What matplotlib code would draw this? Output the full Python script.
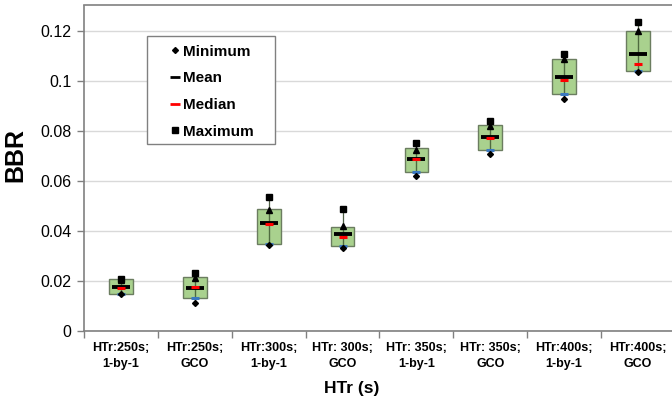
import matplotlib
matplotlib.use("Agg")
import matplotlib.pyplot as plt
from matplotlib.lines import Line2D
from matplotlib.patches import Rectangle
import numpy as np

plt.rcParams['font.family'] = ['Liberation Sans', 'DejaVu Sans']

categories = ["HTr:250s;\n1-by-1", "HTr:250s;\nGCO", "HTr:300s;\n1-by-1", "HTr: 300s;\nGCO",
              "HTr: 350s;\n1-by-1", "HTr: 350s;\nGCO", "HTr:400s;\n1-by-1", "HTr:400s;\nGCO"]
minimum = [0.0147, 0.0111, 0.0346, 0.0333, 0.0621, 0.0707, 0.0929, 0.1035]
lower = [0.0149, 0.0131, 0.0350, 0.0340, 0.0637, 0.0724, 0.0949, 0.1042]
upper = [0.0207, 0.0217, 0.0488, 0.0417, 0.0733, 0.0823, 0.1088, 0.1202]
mean = [0.0177, 0.0172, 0.0431, 0.0387, 0.0687, 0.0775, 0.1016, 0.1107]
median = [0.0171, 0.0177, 0.0427, 0.0377, 0.0688, 0.0772, 0.1003, 0.1067]
maximum = [0.0210, 0.0233, 0.0535, 0.0487, 0.0751, 0.0841, 0.1108, 0.1237]
upper_pct = [0.0205, 0.0213, 0.0485, 0.0420, 0.0725, 0.0820, 0.1087, 0.1200]
yticks = [0, 0.02, 0.04, 0.06, 0.08, 0.1, 0.12]
ytick_labels = ["0", "0.02", "0.04", "0.06", "0.08", "0.1", "0.12"]

W, H = 672, 404
fig = plt.figure(figsize=(6.72, 4.04), dpi=100)
ax = fig.add_axes([84/W, 73/H, 591/W, 325.5/H])

x = np.arange(len(categories))
lo = np.array(lower); hi = np.array(upper)

ax.vlines(x, minimum, maximum, color='#4f5f45', lw=0.9, zorder=3)
ax.bar(x, hi - lo, bottom=lo, width=0.32, color='#a9d18e', edgecolor='#6b7d60', linewidth=1.0, zorder=2)
ax.vlines(x, lo, hi, color='#4f6b3f', lw=0.8, zorder=3)
ax.plot(x, lower, ls='none', marker='_', ms=6, mew=2.2, color='#3a78c0', zorder=4)
ax.plot(x, mean, ls='none', marker='_', ms=13, mew=2.8, color='black', zorder=5)
ax.plot(x, median, ls='none', marker='_', ms=5.5, mew=2.2, color='#ff0000', zorder=6)
ax.plot(x, upper_pct, ls='none', marker='^', ms=5, color='black', zorder=5)
ax.plot(x, maximum, ls='none', marker='s', ms=5, color='black', zorder=5)
ax.plot(x, minimum, ls='none', marker='D', ms=3, color='black', zorder=5)

ax.set_xlim(-0.5, len(categories) - 0.5)
ax.set_ylim(0, 0.1302)
ax.set_yticks(yticks)
ax.set_yticklabels(ytick_labels, fontsize=11.5)
ax.set_xticks(x)
ax.set_xticklabels(categories, fontsize=9, fontweight='bold', linespacing=1.45)
ax.set_xticks(np.arange(len(categories) + 1) - 0.5, minor=True)
ax.tick_params(axis='x', which='major', length=0, pad=8)
ax.tick_params(axis='x', which='minor', length=5, color='#808080', width=1)
ax.tick_params(axis='y', length=5, color='#808080', width=1, pad=4)
ax.grid(axis='y', color='#d9d9d9', lw=1)
ax.set_axisbelow(True)
for s in ax.spines.values():
    s.set_color('#808080')
    s.set_linewidth(1.2)

fig.text(15/W, 1 - 155/H, "BBR", rotation=90, ha='center', va='center', fontsize=18, fontweight='bold')
fig.text(352/W, 1 - 389/H, "HTr (s)", ha='center', va='center', fontsize=12.5, fontweight='bold')

# legend frame
fig.add_artist(Rectangle((147/W, 1 - 144/H), (275-147)/W, (144-36)/H, transform=fig.transFigure,
                         facecolor='white', edgecolor='#808080', lw=1, zorder=8))

handles = [
    Line2D([], [], ls='none', marker='D', ms=3, color='black'),
    Line2D([], [], ls='none', marker='_', ms=7, mew=2, color='black'),
    Line2D([], [], ls='none', marker='_', ms=7, mew=2, color='#ff0000'),
    Line2D([], [], ls='none', marker='s', ms=5, color='black'),
]
leg = fig.legend(handles, ["Minimum", "Mean", "Median", "Maximum"], loc='upper left',
                 bbox_to_anchor=(170.5/W, 1 - 44.5/H), frameon=False,
                 prop={'weight': 'bold', 'size': 11}, handlelength=0.6, handletextpad=0.22,
                 labelspacing=0.83, borderpad=0, borderaxespad=0)
leg.set_zorder(9)

fig.savefig("out.png", dpi=100)
